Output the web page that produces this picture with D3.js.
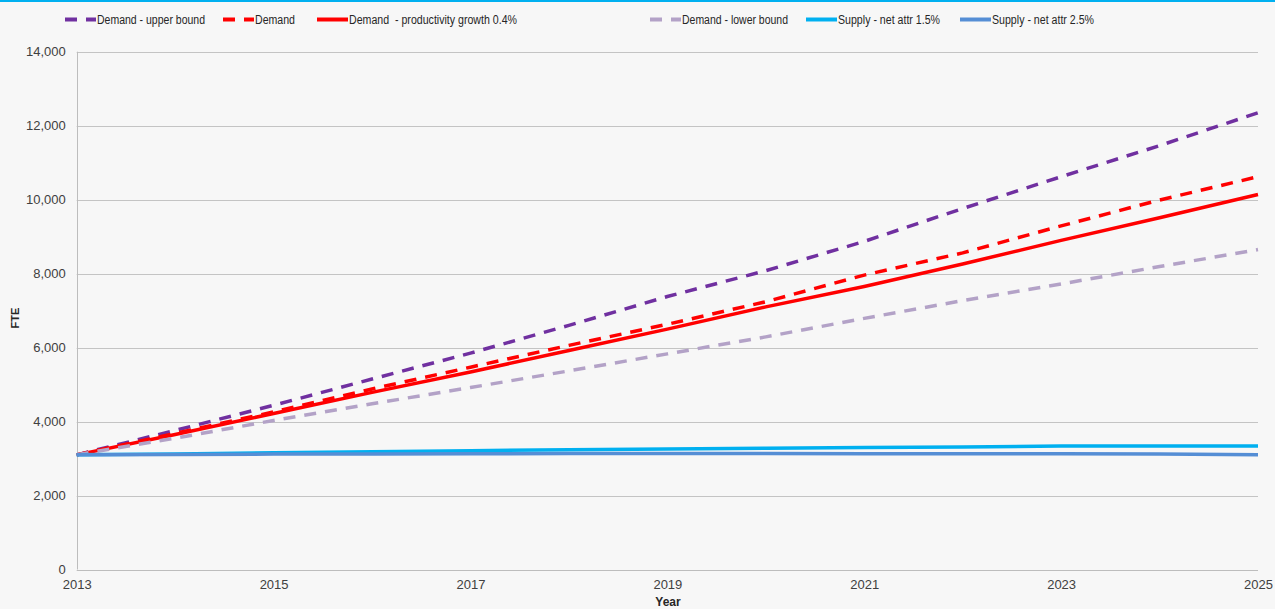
<!DOCTYPE html>
<html><head><meta charset="utf-8">
<script src="https://cdn.jsdelivr.net/npm/d3@7"></script>
<style>
html,body{margin:0;padding:0;background:#f7f7f7;}
svg{display:block;font-family:"Liberation Sans",Arial,sans-serif;}
</style></head>
<body><svg id="c" width="1275" height="609"></svg>
<script>
const years = [2013,2014,2015,2016,2017,2018,2019,2020,2021,2022,2023,2024,2025];
const demandUpper = [3100,3760,4440,5150,5850,6600,7380,8080,8870,9760,10620,11460,12350];
const demand      = [3100,3680,4260,4880,5470,6060,6630,7240,7960,8560,9290,9990,10620];
const demandProd  = [3100,3650,4220,4790,5340,5920,6500,7100,7650,8260,8900,9510,10140];
const demandLower = [3100,3550,4030,4480,4920,5370,5830,6290,6790,7270,7720,8190,8650];
const supply15    = [3100,3125,3155,3185,3210,3240,3260,3280,3300,3310,3340,3340,3340];
const supply25    = [3100,3110,3120,3125,3130,3135,3135,3135,3130,3130,3130,3120,3105];
const yTicks = [0,2000,4000,6000,8000,10000,12000,14000];
const xTicks = [2013,2015,2017,2019,2021,2023,2025];
const seriesNames = ["Demand - upper bound","Demand","Demand  - productivity growth 0.4%","Demand - lower bound","Supply - net attr 1.5%","Supply - net attr 2.5%"];
const seriesValues = [demandUpper,demand,demandProd,demandLower,supply15,supply25];
const seriesColors = ["#7030a0","#ff0000","#ff0000","#b3a2c7","#00b0f0","#558ed5"];
const seriesDashed = [true,true,false,true,false,false];
const legendTextX = [97,255,349,682,838,992];
const legendTextW = [108,40,168,106,102,102];

const svg = d3.select("#c");
svg.append("rect").attr("width",1275).attr("height",609).attr("fill","#f7f7f7");
svg.append("rect").attr("x",0).attr("y",0).attr("width",1275).attr("height",2).attr("fill","#00b0f0");

const x = d3.scaleLinear().domain([2013,2025]).range([76.7,1258]);
const y = d3.scaleLinear().domain([0,14000]).range([569.5,51.7]);

// gridlines
svg.append("g").selectAll("line").data(yTicks.filter(d=>d>0)).join("line")
  .attr("x1",x(2013)).attr("x2",x(2025))
  .attr("y1",d=>Math.round(y(d))+0.5).attr("y2",d=>Math.round(y(d))+0.5)
  .attr("stroke","#c4c4c4").attr("stroke-width",1);

// axes lines
svg.append("line").attr("x1",x(2013)).attr("x2",x(2025)).attr("y1",Math.round(y(0))+0.5).attr("y2",Math.round(y(0))+0.5).attr("stroke","#bdbdbd");
svg.append("line").attr("x1",Math.round(x(2013))+0.5).attr("x2",Math.round(x(2013))+0.5).attr("y1",y(14000)).attr("y2",y(0)).attr("stroke","#bdbdbd");

// y tick labels
const yAxis = d3.axisLeft(y).tickValues(yTicks).tickSize(0).tickPadding(11).tickFormat(d3.format(","));
const gy = svg.append("g").attr("transform",`translate(${x(2013)},0)`).call(yAxis);
gy.select(".domain").remove();
gy.selectAll("text").attr("font-size",13).attr("fill","#404040").attr("font-family","Liberation Sans, Arial, sans-serif");

// x tick labels
const xAxis = d3.axisBottom(x).tickValues(xTicks).tickSize(0).tickPadding(10).tickFormat(d3.format("d"));
const gx = svg.append("g").attr("transform",`translate(0,${y(0)})`).call(xAxis);
gx.select(".domain").remove();
gx.selectAll("text").attr("font-size",13).attr("fill","#404040").attr("font-family","Liberation Sans, Arial, sans-serif");

// axis titles
svg.append("text").attr("transform","translate(19,318) rotate(-90)").attr("text-anchor","middle")
  .attr("font-size",11).attr("font-weight","bold").attr("fill","#262626").text("FTE");
svg.append("text").attr("x",668).attr("y",606).attr("text-anchor","middle")
  .attr("font-size",12).attr("font-weight","bold").attr("fill","#262626").text("Year");

// lines
const line = d3.line().x((d,i)=>x(years[i])).y(d=>y(d));
seriesValues.forEach((vals,k)=>{
  svg.append("path").datum(vals).attr("d",line).attr("fill","none")
    .attr("stroke",seriesColors[k]).attr("stroke-width",3.5)
    .attr("stroke-dasharray",seriesDashed[k]?"12,9":null)
    .attr("stroke-linejoin","round");
});

// legend
seriesNames.forEach((name,k)=>{
  const tx = legendTextX[k];
  svg.append("line").attr("x1",tx-32).attr("x2",tx-1).attr("y1",19.5).attr("y2",19.5)
    .attr("stroke",seriesColors[k]).attr("stroke-width",4)
    .attr("stroke-dasharray",seriesDashed[k]?"12,9":null);
  svg.append("text").attr("x",tx).attr("y",24).attr("font-size",12.5).attr("fill","#262626")
    .attr("textLength",legendTextW[k]).attr("lengthAdjust","spacingAndGlyphs")
    .attr("xml:space","preserve").style("white-space","pre").text(name);
});
</script></body></html>
